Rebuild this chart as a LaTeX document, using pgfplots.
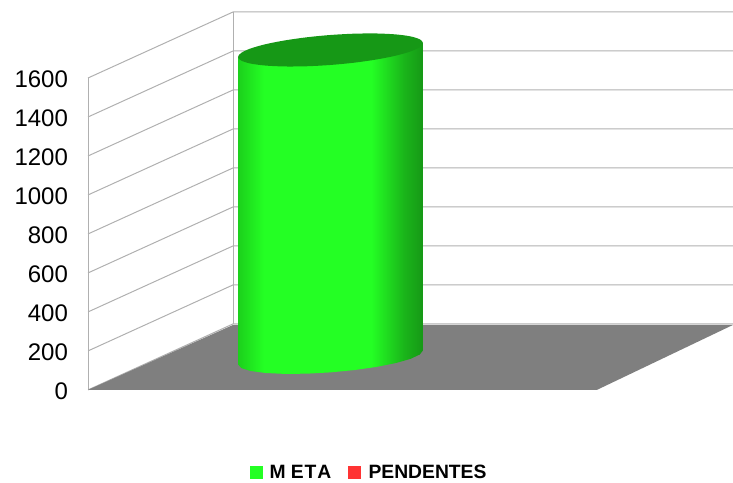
\documentclass[border=0pt]{standalone}
\usepackage{fontspec}
\setmainfont{Liberation Sans}
\usepackage{pgfplots}
\pgfplotsset{compat=1.18}

\definecolor{gridc}{HTML}{B0B0B0}
\definecolor{floorc}{HTML}{7F7F7F}
\definecolor{meta}{HTML}{24FF24}
\definecolor{metaleft}{HTML}{1CD01C}
\definecolor{metamid}{HTML}{1AB41A}
\definecolor{metadark}{HTML}{169816}
\definecolor{pend}{HTML}{FF3333}

% path box is the 25bp..75bp part of the shading
\pgfdeclarehorizontalshading{cyl}{100bp}{
  color(0bp)=(metaleft); color(25bp)=(metaleft); color(32bp)=(meta);
  color(61bp)=(meta); color(70bp)=(metamid); color(75bp)=(metadark);
  color(100bp)=(metadark)}

\begin{document}
\begin{tikzpicture}
\begin{axis}[
  scale only axis, width=733pt, height=483pt,
  xmin=0, xmax=733, ymin=-476.9, ymax=2000,
  axis line style={draw=none},
  xtick=\empty,
  ytick={0,200,400,600,800,1000,1200,1400,1600},
  major tick length=0pt,
  /pgf/number format/assume math mode=true,
  /pgf/number format/1000 sep={},
  yticklabel style={anchor=east, inner sep=0pt, xshift=68pt, yshift=-1pt,
    font=\fontsize{24}{26}\selectfont},
  legend style={at={(0.5034,0.022)}, anchor=center, draw=none, fill=none,
    legend columns=2, inner sep=0pt,
    font=\fontsize{19.3}{22}\selectfont\bfseries,
    /tikz/every even column/.append style={column sep=15pt}},
  legend image code/.code={
    \path[#1, draw=none] (0pt,-6.5pt) rectangle (13pt,6.5pt);
    \path (18pt,0pt);},
  grid line/.style={draw=gridc, line width=1pt, forget plot},
]
% walls
\addplot[grid line] coordinates {(88,0) (88,1600)};
\addplot[grid line] coordinates {(233,338.5) (233,1938.5)};
\addplot[grid line] coordinates {(88,0) (233,338.5) (733,338.5)};
\addplot[grid line] coordinates {(88,200) (233,538.5) (733,538.5)};
\addplot[grid line] coordinates {(88,400) (233,738.5) (733,738.5)};
\addplot[grid line] coordinates {(88,600) (233,938.5) (733,938.5)};
\addplot[grid line] coordinates {(88,800) (233,1138.5) (733,1138.5)};
\addplot[grid line] coordinates {(88,1000) (233,1338.5) (733,1338.5)};
\addplot[grid line] coordinates {(88,1200) (233,1538.5) (733,1538.5)};
\addplot[grid line] coordinates {(88,1400) (233,1738.5) (733,1738.5)};
\addplot[grid line] coordinates {(88,1600) (233,1938.5) (733,1938.5)};
% floor
\addplot[draw=none, fill=floorc, forget plot] coordinates {
  (88,0) (597,0) (733,333) (233,333) (88,0)};
% cylinder body
\addplot[draw=none, shade, shading=cyl, forget plot] coordinates {
  (238,1707.7) (238,130.8) (241.2,112.1) (250.4,97.1) (265.1,86.9)
  (284.3,82.1) (306.6,83.1) (330.5,89.8) (354.4,101.7) (376.8,118.1)
  (395.9,137.7) (410.6,159.3) (419.8,181.5) (423,202.6) (423,1779.5)};
% cylinder top
\addplot[draw=none, fill=metadark, smooth cycle, forget plot] coordinates {
  (423,1779.5) (419.8,1798.2) (410.6,1813.2) (395.9,1823.4) (376.8,1828.2)
  (354.4,1827.2) (330.5,1820.5) (306.6,1808.6) (284.3,1792.2) (265.1,1772.6)
  (250.4,1751) (241.2,1728.8) (238,1707.7) (241.2,1689) (250.4,1674)
  (265.1,1663.8) (284.3,1659) (306.6,1660) (330.5,1666.7) (354.4,1678.6)
  (376.8,1695) (395.9,1714.6) (410.6,1736.2) (419.8,1758.4)};
\addlegendimage{fill=meta}
\addlegendentry{M\kern5pt E\kern1pt T\kern1pt A}
\addlegendimage{fill=pend}
\addlegendentry{PENDENTES}
\end{axis}
\end{tikzpicture}
\end{document}
